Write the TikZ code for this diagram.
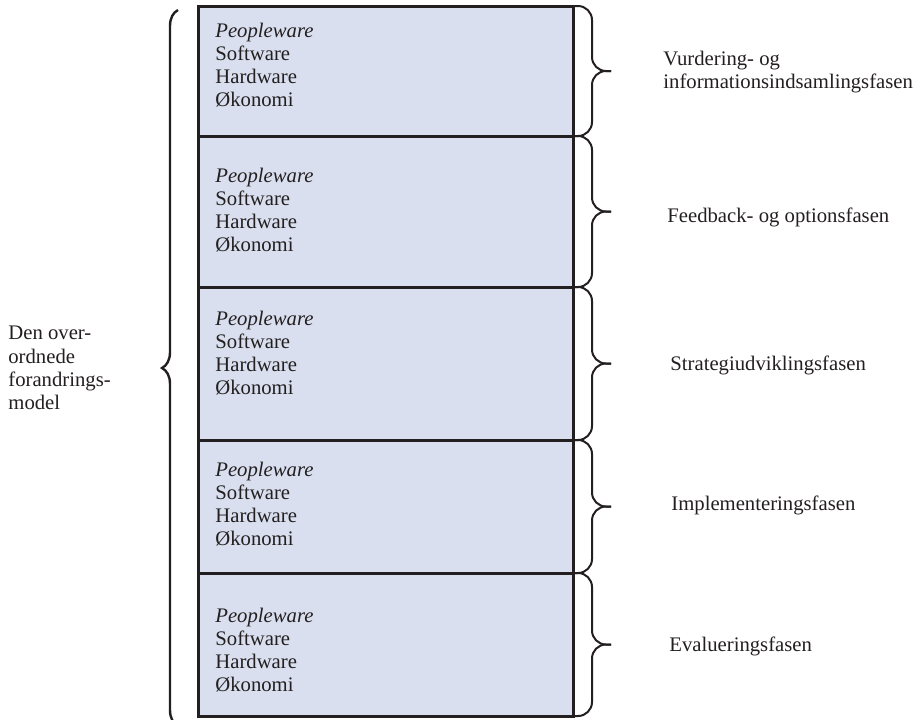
\documentclass[tikz,border=0pt]{standalone}
\usepackage{fontspec}
\setmainfont{Liberation Serif}
\usepackage{xcolor}
\usepackage{tikz}
\usetikzlibrary{positioning}
\usetikzlibrary{decorations.pathreplacing}
\definecolor{boxfill}{RGB}{217,223,239}
\definecolor{linedark}{RGB}{35,31,32}
% indholdet i hver fase
\newcommand{\ressourcer}{\textit{Peopleware}\\Software\\Hardware\\Økonomi}

\begin{document}
\begin{tikzpicture}[
        x=0.5pt, y=-0.5pt,
        font={\fontsize{10.35pt}{11.6pt}\selectfont},
        phasebox/.style={rectangle, minimum width=187.5pt, draw=linedark, line width=1.5pt, fill=boxfill, outer sep=0pt, inner sep=0pt},
        boxtext/.style={anchor=west, align=left, text=linedark, inner sep=0pt},
        phaselabel/.style={anchor=base west, align=left, text=linedark, inner sep=0pt},
        bigbrace/.style={draw=linedark, line width=1.2pt, decorate, decoration={brace, amplitude=8pt}},
        smallbrace/.style={draw=linedark, line width=1pt, rounded corners=7pt}
    ]
        \useasboundingbox (0,0) rectangle (921,719);

        % ===== faserne =====
        \node (box1) [phasebox, minimum height=65pt, anchor=north west] at (198,6) {};
        \node (box2) [phasebox, minimum height=75.5pt, below=0pt of box1] {};
        \node (box3) [phasebox, minimum height=76.5pt, below=0pt of box2] {};
        \node (box4) [phasebox, minimum height=66.5pt, below=0pt of box3] {};
        \node (box5) [phasebox, minimum height=71.5pt, below=0pt of box4] {};

        \node (txt1) [boxtext] at (215,65) {\ressourcer};
        \node (txt2) [boxtext] at (215,210) {\ressourcer};
        \node (txt3) [boxtext] at (215,353) {\ressourcer};
        \node (txt4) [boxtext] at (215,504) {\ressourcer};
        \node (txt5) [boxtext] at (215,650) {\ressourcer};

        % ===== klammer til højre =====
        \draw [smallbrace] (box1.north east) -| ([xshift=9.5pt]box1.east) -- ([xshift=19pt]box1.east);
        \draw [smallbrace] (box1.south east) -| ([xshift=9.5pt]box1.east) -- ([xshift=19pt]box1.east);
        \draw [smallbrace] (box2.north east) -| ([xshift=9.5pt]box2.east) -- ([xshift=19pt]box2.east);
        \draw [smallbrace] (box2.south east) -| ([xshift=9.5pt]box2.east) -- ([xshift=19pt]box2.east);
        \draw [smallbrace] (box3.north east) -| ([xshift=9.5pt]box3.east) -- ([xshift=19pt]box3.east);
        \draw [smallbrace] (box3.south east) -| ([xshift=9.5pt]box3.east) -- ([xshift=19pt]box3.east);
        \draw [smallbrace] (box4.north east) -| ([xshift=9.5pt]box4.east) -- ([xshift=19pt]box4.east);
        \draw [smallbrace] (box4.south east) -| ([xshift=9.5pt]box4.east) -- ([xshift=19pt]box4.east);
        \draw [smallbrace] (box5.north east) -| ([xshift=9.5pt]box5.east) -- ([xshift=19pt]box5.east);
        \draw [smallbrace] (box5.south east) -| ([xshift=9.5pt]box5.east) -- ([xshift=19pt]box5.east);

        \node (fase1) [phaselabel, anchor=west] at (663,72) {Vurdering- og\\informationsindsamlingsfasen};
        \node (fase2) [phaselabel] at (667,222) {Feedback- og optionsfasen};
        \node (fase3) [phaselabel] at (670,370) {Strategiudviklingsfasen};
        \node (fase4) [phaselabel] at (671,510) {Implementeringsfasen};
        \node (fase5) [phaselabel] at (669,651) {Evalueringsfasen};

        % ===== stor klamme til venstre =====
        \coordinate (braceBottom) at (178,726);
        \coordinate (braceTop) at (178,10);
        \draw [bigbrace] (braceBottom) -- (braceTop);
        \node (model) [boxtext] at (8,368) {Den over-\\ordnede\\forandrings-\\model};

    \end{tikzpicture}
\end{document}
